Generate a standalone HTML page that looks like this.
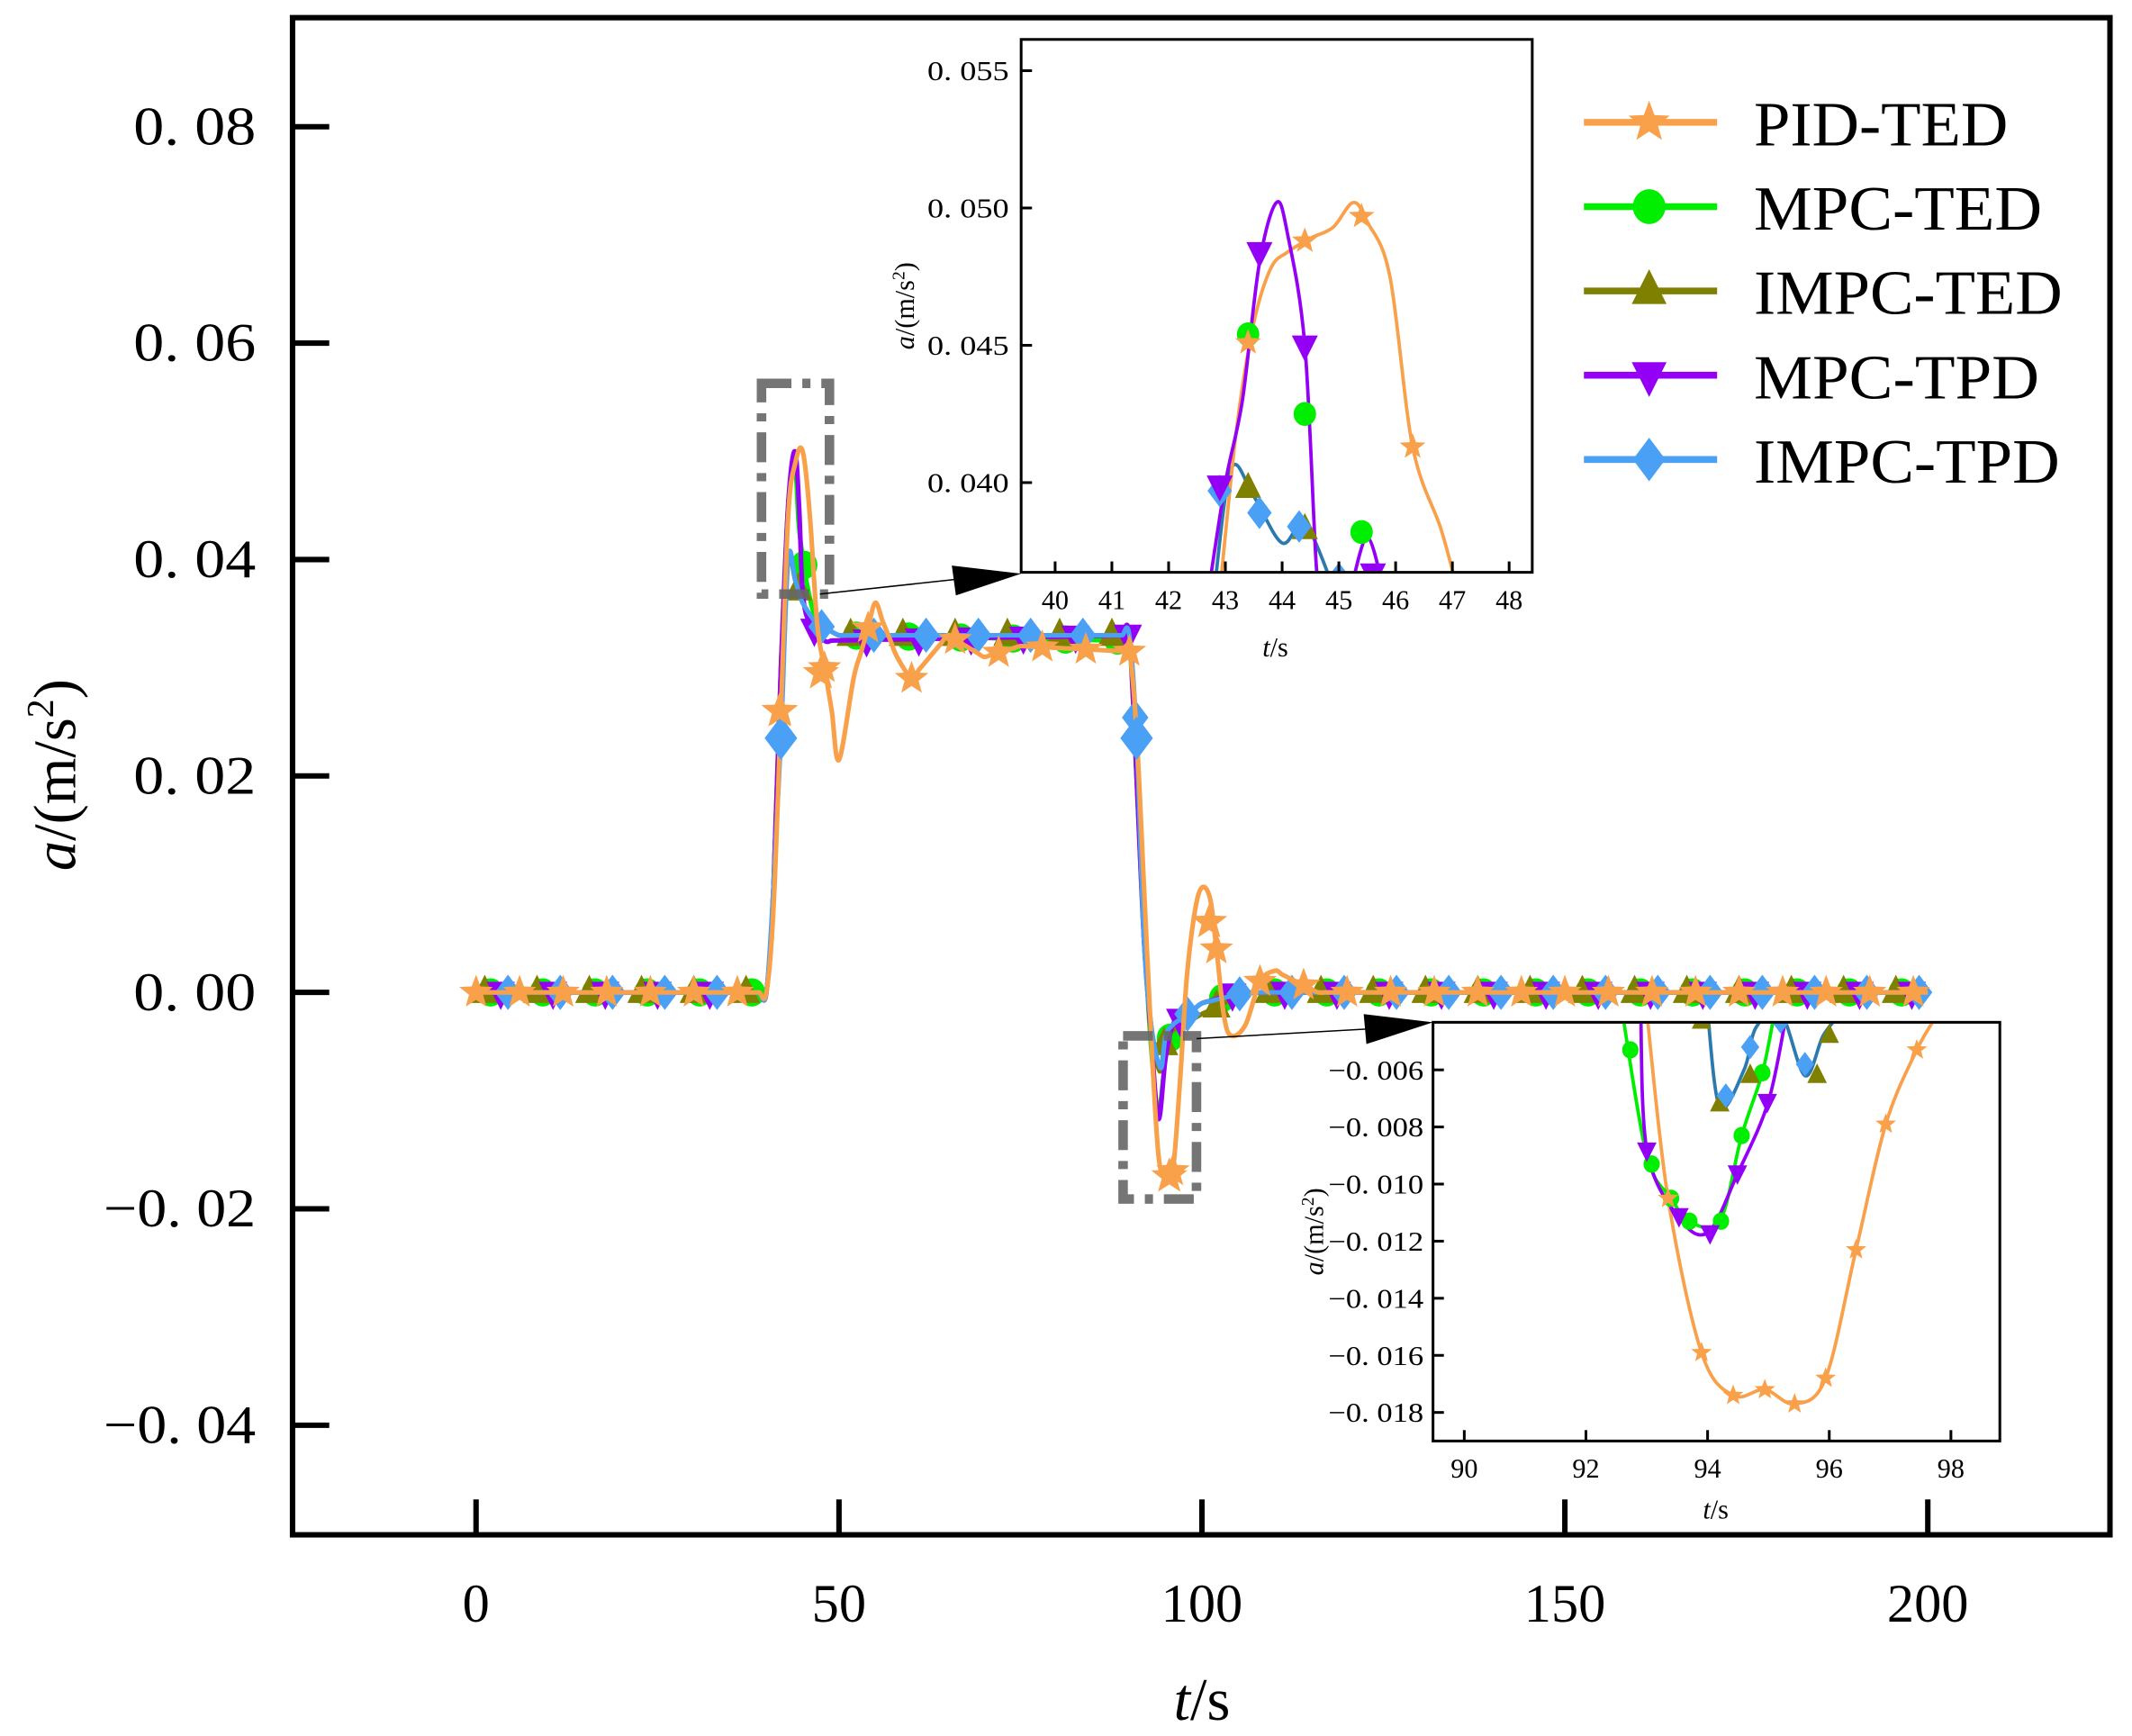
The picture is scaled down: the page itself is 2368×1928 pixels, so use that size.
<!DOCTYPE html>
<html><head><meta charset="utf-8"><style>html,body{margin:0;padding:0;background:#fff}svg{display:block}text{font-family:"Liberation Serif",serif;fill:#000}</style></head>
<body>
<svg id="s" width="2368" height="1928" viewBox="0 0 1568 1277" xmlns="http://www.w3.org/2000/svg">
<defs>
<clipPath id="cm"><rect x="217" y="15" width="1333" height="1112"/></clipPath>
<clipPath id="c1"><rect x="752" y="30" width="374" height="390"/></clipPath>
<clipPath id="c2"><rect x="1055" y="753" width="415" height="306"/></clipPath>
</defs>
<rect x="0" y="0" width="1568" height="1277" fill="#fff"/>
<g id="main"></g>
<rect x="215" y="13" width="1337" height="1116" fill="none" stroke="#000" stroke-width="4"/>
<g id="axes" stroke="#000" stroke-width="4"></g>
<g id="lbl"></g>
<rect x="560" y="282" width="50" height="155" fill="none" stroke="#666" stroke-width="7" stroke-dasharray="22,8,6,8" opacity="0.9"/>
<rect x="826" y="762" width="54" height="120" fill="none" stroke="#666" stroke-width="7" stroke-dasharray="22,8,6,8" opacity="0.9"/>
<line x1="603" y1="437" x2="705" y2="426" stroke="#000" stroke-width="1"/>
<polygon points="700,416 751,422 703,438" fill="#000"/>
<line x1="880" y1="764" x2="1005" y2="757" stroke="#000" stroke-width="1"/>
<polygon points="1003,746 1054,752 1005,768" fill="#000"/>
<rect x="751" y="29" width="376" height="392" fill="#fff"/>
<g id="in1"></g>
<rect x="751" y="29" width="376" height="392" fill="none" stroke="#000" stroke-width="2"/>
<rect x="1054" y="752" width="417" height="308" fill="#fff"/>
<g id="in2"></g>
<rect x="1054" y="752" width="417" height="308" fill="none" stroke="#000" stroke-width="2"/>
<g id="leg"></g>
</svg>
<script>
const NS="http://www.w3.org/2000/svg";
function el(p,tag,a,txt){const e=document.createElementNS(NS,tag);for(const k in a)e.setAttribute(k,a[k]);if(txt!==undefined)e.textContent=txt;p.appendChild(e);return e;}
const C={pid:"#f9a04a",mted:"#00ee00",imted:"#808000",mtpd:"#9400f5",imtpd:"#4aa0f5"};
function path(pts){
 let d="M"+pts[0][0].toFixed(1)+","+pts[0][1].toFixed(1);
 for(let i=0;i<pts.length-1;i++){const p0=pts[i-1]||pts[i],p1=pts[i],p2=pts[i+1],p3=pts[i+2]||p2;
  const c1=[p1[0]+(p2[0]-p0[0])/6,p1[1]+(p2[1]-p0[1])/6],c2=[p2[0]-(p3[0]-p1[0])/6,p2[1]-(p3[1]-p1[1])/6];
  d+=" C"+c1.map(v=>v.toFixed(1))+" "+c2.map(v=>v.toFixed(1))+" "+p2[0].toFixed(1)+","+p2[1].toFixed(1);}
 return d;}
function densify(d){const o=[];for(let i=0;i<d.length;i++){o.push(d[i]);if(i<d.length-1){const a=d[i],b=d[i+1],L=b[0]-a[0];if(L>2){const n=Math.ceil(L/1);for(let j=1;j<n;j++){const f=j/n;o.push([a[0]+f*L,a[1]+f*(b[1]-a[1])]);}}}}return o;}
function marker(g,type,x,y,s,col){
 if(type=="star"){let p=[];for(let i=0;i<10;i++){const r=i%2?s*0.42:s,a=-Math.PI/2+i*Math.PI/5;p.push((x+r*Math.cos(a)).toFixed(1)+","+(y+r*Math.sin(a)).toFixed(1));}el(g,"polygon",{points:p.join(" "),fill:col});}
 else if(type=="circle")el(g,"ellipse",{cx:x,cy:y,rx:s*0.75,ry:s*0.8,fill:col});
 else if(type=="up")el(g,"polygon",{points:`${x},${y-s} ${x-s*0.8},${y+s*0.6} ${x+s*0.8},${y+s*0.6}`,fill:col});
 else if(type=="down")el(g,"polygon",{points:`${x},${y+s} ${x-s*0.8},${y-s*0.6} ${x+s*0.8},${y-s*0.6}`,fill:col});
 else if(type=="dia")el(g,"polygon",{points:`${x},${y-s} ${x+s*0.75},${y} ${x},${y+s} ${x-s*0.75},${y}`,fill:col});
}
function interp(d,t){if(t<=d[0][0])return d[0][1];for(let i=0;i<d.length-1;i++){if(t<=d[i+1][0]){const f=(t-d[i][0])/(d[i+1][0]-d[i][0]);return d[i][1]+f*(d[i+1][1]-d[i][1]);}}return d[d.length-1][1];}
const D={
 pid:[[0,0],[40,0],[41,0.008],[42,0.026],[43,0.044],[44,0.049],[45,0.05],[46,0.044],[47,0.034],[48,0.03],[49,0.026],[50,0.0215],[52,0.029],[55,0.036],[58,0.031],[60,0.029],[65,0.033],[70,0.031],[75,0.032],[90,0.0315],[91,0.024],[92,0.01],[93,-0.004],[94,-0.015],[95,-0.017],[96,-0.0165],[97,-0.008],[98,0.002],[99.5,0.009],[101,0.009],[102,0.004],[103,-0.002],[104,-0.004],[106,-0.003],[108,0.001],[110,0.002],[113,0.001],[116,0],[120,0],[200,0]],
 mted:[[0,0],[40,0],[41,0.01],[42,0.03],[43,0.045],[43.9,0.049],[44.5,0.043],[45.5,0.038],[47,0.034],[50,0.033],[90,0.0325],[91,0.02],[92,0.006],[93,-0.005],[94,-0.011],[95,-0.006],[96,-0.003],[100,-0.001],[106,0],[200,0]],
 imted:[[0,0],[40,0],[41,0.01],[42,0.03],[43,0.04],[44,0.038],[45,0.036],[47,0.034],[50,0.033],[90,0.033],[91,0.02],[92,0.005],[93,-0.003],[94.2,-0.0073],[95,-0.004],[96,-0.0035],[100,-0.002],[106,0],[200,0]],
 mtpd:[[0,0],[40,0],[41,0.01],[42,0.03],[43,0.045],[43.9,0.050],[44.5,0.045],[45,0.037],[46,0.034],[48,0.0325],[90,0.033],[91,0.02],[92,0.005],[93,-0.004],[94,-0.0117],[95,-0.006],[96,-0.003],[100,-0.001],[105,0],[200,0]],
 imtpd:[[0,0],[40,0],[41,0.01],[42,0.0235],[43,0.04],[44,0.038],[45,0.036],[47,0.034],[50,0.033],[90,0.033],[91,0.0235],[92,0.005],[93,-0.003],[94.3,-0.007],[95,-0.004],[96,-0.003],[100,-0.001],[106,0],[200,0]]
};
const MT={pid:"star",mted:"circle",imted:"up",mtpd:"down",imtpd:"dia"};
const X=t=>350+t*5.34, Y=a=>730-a*7960;
const gm=el(document.getElementById("main"),"g",{"clip-path":"url(#cm)"});
const order=["mted","imted","mtpd","imtpd","pid"];
const offs={pid:0,mted:2,imted:1.2,mtpd:3.4,imtpd:4.4};
order.forEach(k=>{
 const pts=densify(D[k]).map(p=>[X(p[0]),Y(p[1])]);
 el(gm,"path",{d:path(pts),fill:"none",stroke:C[k],"stroke-width":3.4});
 for(let t=offs[k];t<=201;t+=(k=="pid"?6:7.2)){if(t>39&&t<41.5)continue;marker(gm,MT[k],X(t),Y(interp(D[k],t)),13,C[k]);}
});
marker(gm,"dia",X(42),Y(0.0235),16,C.imtpd);marker(gm,"dia",X(91),Y(0.0235),16,C.imtpd);
marker(gm,"star",X(41.8),Y(0.026),14,C.pid);marker(gm,"star",X(47.5),Y(0.0295),14,C.pid);marker(gm,"star",X(95.5),Y(-0.017),14,C.pid);marker(gm,"star",X(101),Y(0.0065),14,C.pid);
const ax=document.getElementById("axes"),lb=document.getElementById("lbl");
[[0.08,"0. 08"],[0.06,"0. 06"],[0.04,"0. 04"],[0.02,"0. 02"],[0,"0. 00"],[-0.02,"\u22120. 02"],[-0.04,"\u22120. 04"]].forEach(([v,s])=>{
 const y=Y(v);el(ax,"line",{x1:215,y1:y,x2:242,y2:y});
 el(lb,"text",{x:188,y:y+13,"text-anchor":"end","font-size":40,textLength:s.length>5?112:90,lengthAdjust:"spacingAndGlyphs"},s);});
[0,50,100,150,200].forEach(t=>{const x=X(t);el(ax,"line",{x1:x,y1:1129,x2:x,y2:1103});
 el(lb,"text",{x:x,y:1193,"text-anchor":"middle","font-size":40},String(t));});
const xl=el(lb,"text",{x:884,y:1265,"text-anchor":"middle","font-size":44});
el(xl,"tspan",{"font-style":"italic"},"t");el(xl,"tspan",{},"/s");
const yl=el(lb,"text",{transform:"translate(55,570) rotate(-90)","text-anchor":"middle","font-size":44});
el(yl,"tspan",{"font-style":"italic"},"a");el(yl,"tspan",{},"/(m/s");el(yl,"tspan",{"font-size":28,dy:-16},"2");el(yl,"tspan",{dy:16},")");
const lg=document.getElementById("leg");
[["pid","PID-TED"],["mted","MPC-TED"],["imted","IMPC-TED"],["mtpd","MPC-TPD"],["imtpd","IMPC-TPD"]].forEach(([k,s],i)=>{
 const y=90+i*62;el(lg,"line",{x1:1165,y1:y,x2:1263,y2:y,stroke:C[k],"stroke-width":5});
 marker(lg,MT[k],1213,y,16,C[k]);
 el(lg,"text",{x:1290,y:y+17,"font-size":46,textLength:[187,212,227,210,225][i],lengthAdjust:"spacingAndGlyphs"},s);});
(function(){const g=document.getElementById("in1");const cg=el(g,"g",{"clip-path":"url(#c1)"});
 const x=t=>776+(t-40)*41.75,y=a=>355-(a-0.040)*20200;
 const S={
  imted:[[42.8,0.0360],[43.1,0.0405],[43.5,0.0395],[44,0.0378],[44.4,0.0385],[44.9,0.0362]],
  mtpd:[[42.7,0.0360],[43,0.040],[43.3,0.043],[43.6,0.048],[43.9,0.0502],[44.1,0.049],[44.4,0.045],[44.6,0.037],[44.7,0.036]],
  mtpd2:[[45.2,0.036],[45.5,0.038],[45.8,0.036]],
  pid:[[42.9,0.036],[43.2,0.042],[43.5,0.0458],[43.8,0.0478],[44.1,0.0484],[44.5,0.0489],[44.9,0.0493],[45.25,0.0502],[45.5,0.0495],[45.9,0.0475],[46.3,0.0413],[46.8,0.0383],[47.1,0.0360]]};
 el(cg,"path",{d:path(S.imted.map(p=>[x(p[0]),y(p[1])])),fill:"none",stroke:"#2a7ab0","stroke-width":2.5});
 el(cg,"path",{d:path(S.pid.map(p=>[x(p[0]),y(p[1])])),fill:"none",stroke:C.pid,"stroke-width":2.5});
 el(cg,"path",{d:path(S.mtpd.map(p=>[x(p[0]),y(p[1])])),fill:"none",stroke:C.mtpd,"stroke-width":2.5});
 el(cg,"path",{d:path(S.mtpd2.map(p=>[x(p[0]),y(p[1])])),fill:"none",stroke:C.mtpd,"stroke-width":2.5});
 [[43.4,0.0454],[44.4,0.0425],[45.4,0.0382]].forEach(p=>marker(cg,"circle",x(p[0]),y(p[1]),11,C.mted));
 [[43.4,0.0398],[44.4,0.0383]].forEach(p=>marker(cg,"up",x(p[0]),y(p[1]),12,C.imted));
 [[42.9,0.0397],[43.6,0.0389],[44.3,0.0384],[45,0.0365]].forEach(p=>marker(cg,"dia",x(p[0]),y(p[1]),12,C.imtpd));
 [[42.9,0.0399],[43.6,0.0484],[44.4,0.045],[45.6,0.0367]].forEach(p=>marker(cg,"down",x(p[0]),y(p[1]),12,C.mtpd));
 [[43.4,0.0451],[44.4,0.0488],[45.4,0.0497],[46.3,0.0413]].forEach(p=>marker(cg,"star",x(p[0]),y(p[1]),10,C.pid));
 [[0.055,"0. 055"],[0.050,"0. 050"],[0.045,"0. 045"],[0.040,"0. 040"]].forEach(([v,s])=>{el(g,"line",{x1:751,y1:y(v),x2:759,y2:y(v),stroke:"#000","stroke-width":2});
  el(g,"text",{x:742,y:y(v)+7,"text-anchor":"end","font-size":20,textLength:60,lengthAdjust:"spacingAndGlyphs"},s);});
 for(let t=40;t<=48;t++){el(g,"line",{x1:x(t),y1:421,x2:x(t),y2:413,stroke:"#000","stroke-width":2});el(g,"text",{x:x(t),y:448,"text-anchor":"middle","font-size":20},String(t));}
 const a=el(g,"text",{x:938,y:483,"text-anchor":"middle","font-size":20});el(a,"tspan",{"font-style":"italic"},"t");el(a,"tspan",{},"/s");
 const b=el(g,"text",{transform:"translate(672,225) rotate(-90)","text-anchor":"middle","font-size":20});el(b,"tspan",{"font-style":"italic"},"a");el(b,"tspan",{},"/(m/s");el(b,"tspan",{"font-size":13,dy:-7},"2");el(b,"tspan",{dy:7},")");
})();
(function(){const g=document.getElementById("in2");const cg=el(g,"g",{"clip-path":"url(#c2)"});
 const x=t=>1077+(t-90)*44.75,y=a=>787-(a+0.006)*21000;
 const S={
  imted:[[94.0,-0.0040],[94.2,-0.0073],[94.6,-0.0060],[94.8,-0.0045],[95.2,-0.004],[95.6,-0.0062],[95.9,-0.0048],[96.2,-0.004]],
  mtpd:[[92.9,-0.004],[93.0,-0.0088],[93.5,-0.0111],[94.0,-0.0117],[94.5,-0.0096],[95.0,-0.0071],[95.3,-0.004]],
  mted:[[92.6,-0.004],[93.0,-0.009],[93.4,-0.0105],[93.7,-0.0113],[94.2,-0.0113],[94.56,-0.0083],[94.9,-0.0061],[95.1,-0.004]],
  pid:[[93.0,-0.004],[93.35,-0.0105],[93.9,-0.0159],[94.42,-0.0174],[94.94,-0.0172],[95.43,-0.0177],[95.94,-0.0168],[96.44,-0.0123],[96.93,-0.0079],[97.44,-0.0053],[97.8,-0.004]]};
 el(cg,"path",{d:path(S.pid.map(p=>[x(p[0]),y(p[1])])),fill:"none",stroke:C.pid,"stroke-width":2.5});
 el(cg,"path",{d:path(S.mted.map(p=>[x(p[0]),y(p[1])])),fill:"none",stroke:C.mted,"stroke-width":2.5});
 el(cg,"path",{d:path(S.mtpd.map(p=>[x(p[0]),y(p[1])])),fill:"none",stroke:C.mtpd,"stroke-width":2.5});
 el(cg,"path",{d:path(S.imted.map(p=>[x(p[0]),y(p[1])])),fill:"none",stroke:"#2a7ab0","stroke-width":2.5});
 [[92.73,-0.0053],[93.08,-0.0093],[93.4,-0.0105],[93.7,-0.0113],[94.22,-0.0113],[94.56,-0.0083],[94.9,-0.0061]].forEach(p=>marker(cg,"circle",x(p[0]),y(p[1]),8,C.mted));
 [[94.2,-0.0072],[94.7,-0.0062],[95.8,-0.0062],[96.0,-0.0048],[93.9,-0.0043]].forEach(p=>marker(cg,"up",x(p[0]),y(p[1]),9,C.imted));
 [[94.3,-0.0069],[94.7,-0.0052],[95.6,-0.0058],[95.2,-0.0043]].forEach(p=>marker(cg,"dia",x(p[0]),y(p[1]),9,C.imtpd));
 [[93.0,-0.0088],[93.53,-0.0111],[94.04,-0.0117],[94.49,-0.0096],[94.98,-0.0071]].forEach(p=>marker(cg,"down",x(p[0]),y(p[1]),9,C.mtpd));
 [[93.35,-0.0105],[93.9,-0.0159],[94.42,-0.0174],[94.94,-0.0172],[95.43,-0.0177],[95.94,-0.0168],[96.44,-0.0123],[96.93,-0.0079],[97.44,-0.0053]].forEach(p=>marker(cg,"star",x(p[0]),y(p[1]),8,C.pid));
 [-0.006,-0.008,-0.010,-0.012,-0.014,-0.016,-0.018].forEach(v=>{el(g,"line",{x1:1054,y1:y(v),x2:1062,y2:y(v),stroke:"#000","stroke-width":2});
  el(g,"text",{x:1047,y:y(v)+7,"text-anchor":"end","font-size":20,textLength:70,lengthAdjust:"spacingAndGlyphs"},"\u22120. 0"+String(Math.round(-v*1000)).padStart(2,"0"));});
 for(let t=90;t<=98;t+=2){el(g,"line",{x1:x(t),y1:1060,x2:x(t),y2:1052,stroke:"#000","stroke-width":2});el(g,"text",{x:x(t),y:1087,"text-anchor":"middle","font-size":20},String(t));}
 const a=el(g,"text",{x:1262,y:1117,"text-anchor":"middle","font-size":20});el(a,"tspan",{"font-style":"italic"},"t");el(a,"tspan",{},"/s");
 const b=el(g,"text",{transform:"translate(973,906) rotate(-90)","text-anchor":"middle","font-size":20});el(b,"tspan",{"font-style":"italic"},"a");el(b,"tspan",{},"/(m/s");el(b,"tspan",{"font-size":13,dy:-7},"2");el(b,"tspan",{dy:7},")");
})();
</script>
</body></html>
